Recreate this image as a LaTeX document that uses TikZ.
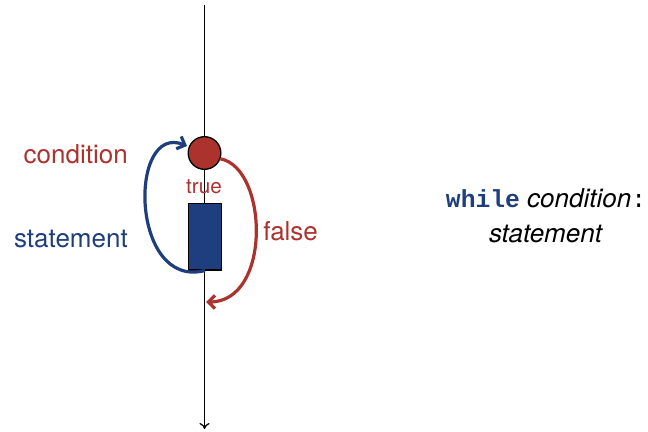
\documentclass[tikz,border=0pt]{standalone}
\usepackage{fontspec}
\setmainfont{TeX Gyre Heros}
\setmonofont{Liberation Mono}
\usetikzlibrary{arrows.meta,positioning,calc}
\definecolor{condred}{RGB}{172,50,46}
\definecolor{stmtblue}{RGB}{30,62,126}
\begin{document}
\begin{tikzpicture}[
        x=0.75pt, y=-0.75pt,
        cond/.style={circle, draw=black, fill=condred, line width=1pt, minimum size=24.5pt, inner sep=0pt},
        stmt/.style={rectangle, draw=black, fill=stmtblue, line width=1pt, minimum width=25pt, minimum height=50pt, inner sep=0pt},
        label/.style={font=\fontsize{19.5}{23}\selectfont, inner sep=0pt},
        flow/.style={line width=0.9pt, -{To[length=4.5pt,width=7.5pt]}},
        loop/.style={line width=2.4pt, -{Straight Barb[length=5pt,width=10pt,line width=2.4pt]}}
    ]
        \useasboundingbox (0,0) rectangle (648,431);
        % Axis ends
        \coordinate (top) at (204.5,5);
        \coordinate (bottom) at (204.5,429);
        \coordinate (join) at (206,302);
        % Main flow line
        \draw[flow] (top) -- (bottom);
        % Nodes
        \node[cond] (c) at (204.5,153) {};
        \node[stmt] (s) at (205,236.5) {};
        % Labels
        \node[label, text=condred, font=\fontsize{15.5}{18}\selectfont, anchor=base] (t) at (204,193) {true};
        \node[label, text=condred, anchor=base east] (cl) at (128,163) {condition};
        \node[label, text=stmtblue, anchor=base east] (sl) at (128,247) {statement};
        \node[label, text=condred, anchor=base west] (fl) at (263,240) {false};
        % Loop back and exit
        \draw[loop, stmtblue] (s.south) .. controls (130,290) and (128,122) .. (187,146);
        \draw[loop, condred] (c.-20) .. controls (268,168) and (272,302) .. (join);
        % Code
        \node[label, anchor=base] (code1) at (546,207) {{\ttfamily\bfseries\color{stmtblue}\fontsize{18.5}{22}\selectfont while} \textit{condition}{\ttfamily\fontsize{18.5}{22}\selectfont :}};
        \node[label, anchor=base] (code2) at (546,242) {\textit{statement}};
\end{tikzpicture}
\end{document}
